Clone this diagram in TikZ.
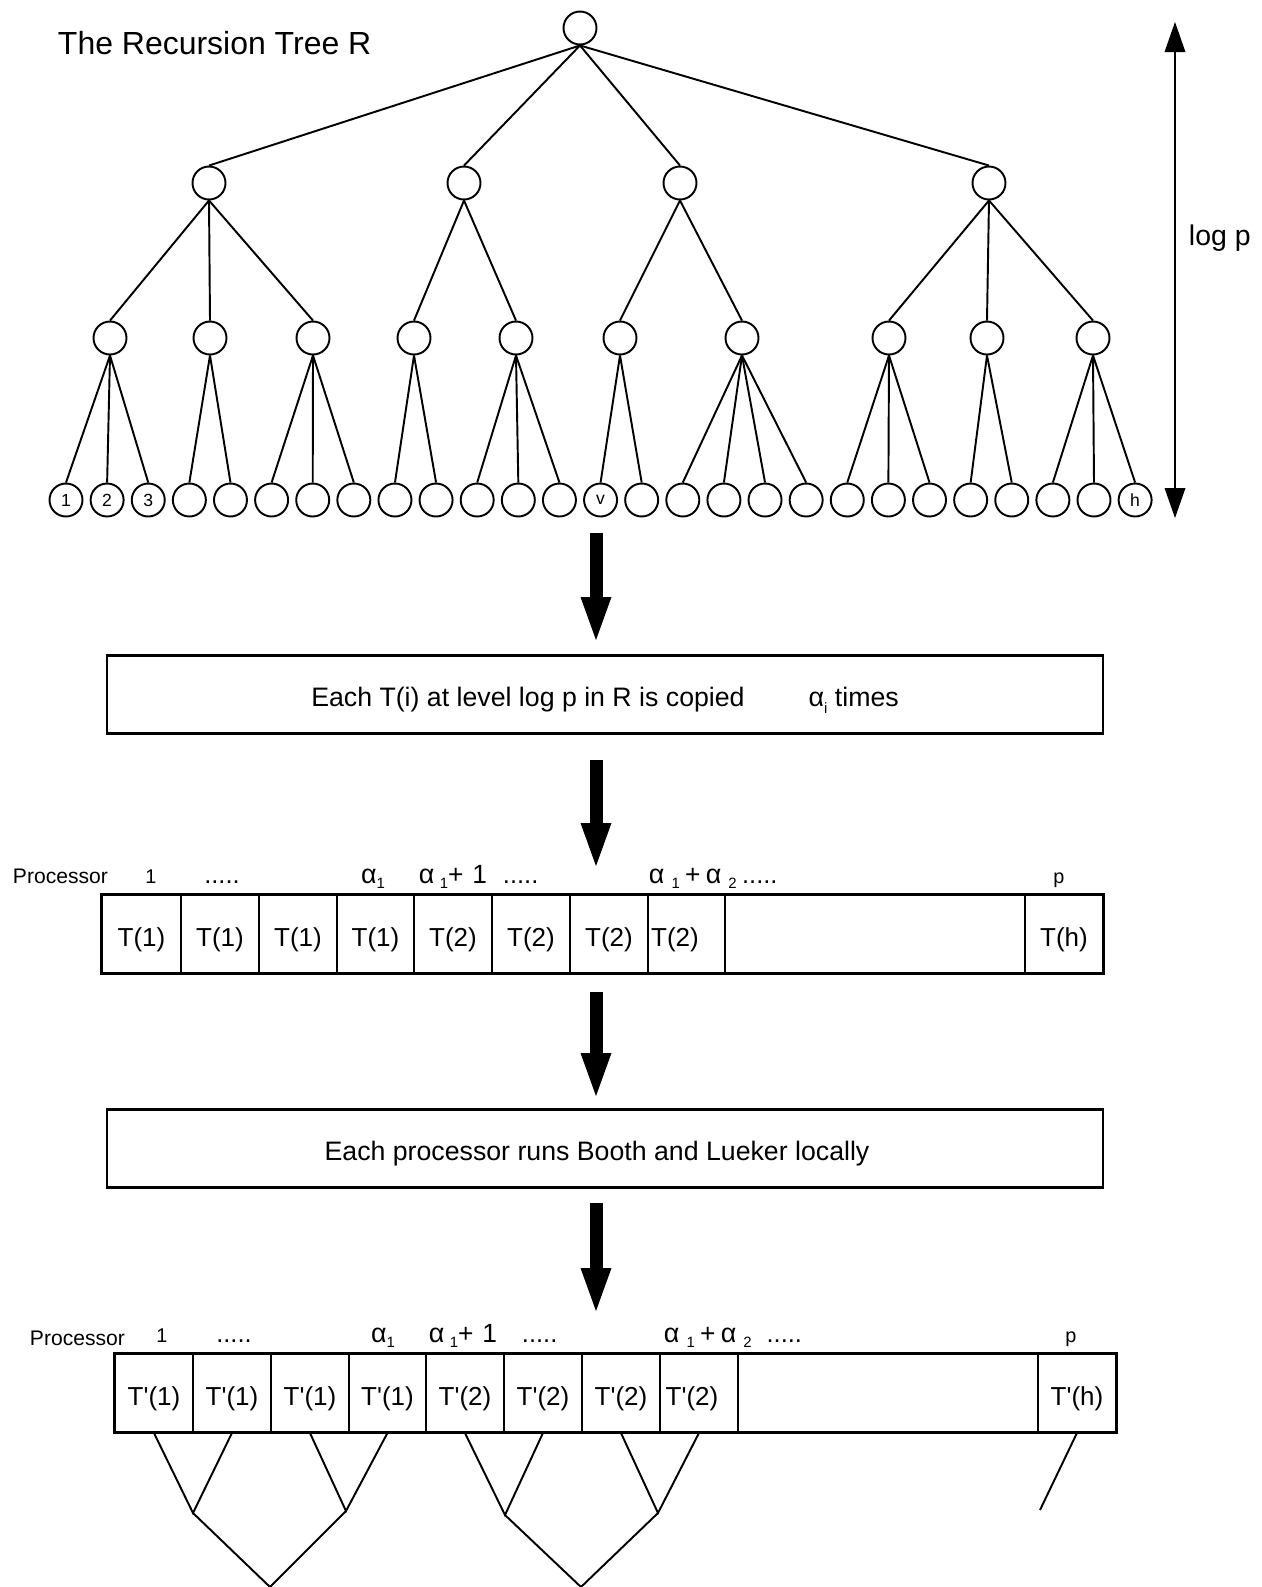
\documentclass[tikz,border=0pt]{standalone}
\usepackage{fontspec}
\setmainfont{Liberation Sans}
\usetikzlibrary{arrows.meta}

\newcommand{\alp}{{\fontsize{15.3}{16}\selectfont α}}
\newcommand{\asub}[1]{\raisebox{-0.5ex}{\fontsize{8.5}{9}\selectfont #1}}
\newcommand{\bigtxt}[1]{{\fontsize{15}{15}\selectfont #1}}

\begin{document}
\begin{tikzpicture}[x=0.02cm,y=-0.02cm,line width=1.1pt,
	vertex/.style={circle,draw,minimum size=0.66cm,inner sep=0pt,font=\fontsize{10}{10}\selectfont},
	cell/.style={draw,anchor=west,minimum height=1.56cm,inner sep=0pt,text height=0.58cm,text depth=0.1cm,font=\fontsize{14.8}{15}\selectfont},
	stage/.style={draw,line width=1.5pt,minimum width=19.92cm,minimum height=1.56cm,inner sep=0pt,text height=0.5cm,text depth=0.02cm,font=\fontsize{15.2}{16}\selectfont},
	tag/.style={anchor=base,inner sep=0pt,font=\fontsize{11.3}{12}\selectfont},
	dots/.style={tag,font=\fontsize{14.5}{15}\selectfont},
	bigarrow/.style={line width=0.26cm,-{Triangle[width=0.62cm,length=0.86cm,line width=0pt]}},
	levelarrow/.style={{Triangle[width=0.42cm,length=0.6cm,line width=0pt]}-{Triangle[width=0.42cm,length=0.6cm,line width=0pt]}}]
	\useasboundingbox (0,0) rectangle (1262,1587);

	% the recursion tree
	\node[anchor=base west,inner sep=0pt,font=\fontsize{18.2}{19}\selectfont] (title) at (57,54) {The Recursion Tree R};
	\node[vertex] (r) at (580,28) {};
	\node[vertex] (a1) at (209,183) {};
	\node[vertex] (a2) at (464,183) {};
	\node[vertex] (a3) at (680,183) {};
	\node[vertex] (a4) at (989,183) {};
	\foreach \x [count=\i] in {110,210,313,414,516,620,742,889,987,1093}
		\node[vertex] (b\i) at (\x,338) {};
	\foreach \t [count=\i] in {1,2,3,{},{},{},{},{},{},{},{},{},{},v,{},{},{},{},{},{},{},{},{},{},{},{},h}
		\node[vertex] (l\i) at ({66+41.12*(\i-1)},500) {\t};

	\path (r.south) edge (a1.north) edge (a2.north) edge (a3.north) edge (a4.north);
	\path (a1.south) edge (b1.north) edge (b2.north) edge (b3.north);
	\path (a2.south) edge (b4.north) edge (b5.north);
	\path (a3.south) edge (b6.north) edge (b7.north);
	\path (a4.south) edge (b8.north) edge (b9.north) edge (b10.north);
	\path (b1.south) edge (l1.north) edge (l2.north) edge (l3.north);
	\path (b2.south) edge (l4.north) edge (l5.north);
	\path (b3.south) edge (l6.north) edge (l7.north) edge (l8.north);
	\path (b4.south) edge (l9.north) edge (l10.north);
	\path (b5.south) edge (l11.north) edge (l12.north) edge (l13.north);
	\path (b6.south) edge (l14.north) edge (l15.north);
	\path (b7.south) edge (l16.north) edge (l17.north) edge (l18.north) edge (l19.north);
	\path (b8.south) edge (l20.north) edge (l21.north) edge (l22.north);
	\path (b9.south) edge (l23.north) edge (l24.north);
	\path (b10.south) edge (l25.north) edge (l26.north) edge (l27.north);

	% height of the tree
	\coordinate (top) at (1175,22);
	\coordinate (bottom) at (1175,518);
	\draw[levelarrow] (bottom) -- (top);
	\node[anchor=base west,inner sep=0pt,font=\fontsize{16.2}{17}\selectfont] (logp) at (1188,245) {log p};

	% copying step
	\coordinate (s1) at (596,533); \coordinate (e1) at (596,640);
	\draw[bigarrow] (s1) -- (e1);
	\node[stage] (copy) at (605,694.5) {Each T(i) at level log p in R is copied\hspace{1.28cm}\alp\asub{i} times};
	\coordinate (s2) at (596,760); \coordinate (e2) at (596,866);
	\draw[bigarrow] (s2) -- (e2);

	% processors before
	\node[tag,anchor=base west,font=\fontsize{12}{12}\selectfont] (procA) at (12,883) {Processor};
	\node[tag] (oneA) at (151,883) {1};
	\node[dots] (dotsA) at (222,883) {.....};
	\node[tag] (alphaA) at (373,883) {\alp\asub{1}};
	\node[tag,anchor=base west] (nextA) at (418,883) {\alp\hspace{3pt}\asub{1}\bigtxt{+\hspace{5pt}1}};
	\node[dots,anchor=base west] (moreA) at (502,883) {.....};
	\node[tag,anchor=base west] (sumA) at (648,883) {\alp\hspace{4pt}\asub{1}\hspace{3pt}\bigtxt{+}\hspace{3pt}\alp\hspace{4pt}\asub{2} {\fontsize{14.5}{15}\selectfont .....}};
	\node[tag] (pA) at (1059,883) {p};
	\foreach \x/\w/\t [count=\i] in {101/79/T(1),180/78/T(1),258/78/T(1),336/77/T(1),413/78/T(2),491/78/T(2),569/78/T(2),647/77/T(2)\hspace{0.46cm}\mbox{},724/300/{},1024/78/T(h)}
		\node[cell,minimum width=\w*0.02cm] (p\i) at (\x,934) {\t};
	\draw[line width=1.6pt] (p1.north west) rectangle (p10.south east);

	% local step
	\coordinate (s3) at (596,992); \coordinate (e3) at (596,1096);
	\draw[bigarrow] (s3) -- (e3);
	\node[stage] (local) at (605,1148.5) {Each processor runs Booth and Lueker locally\hspace{0.32cm}\mbox{}};
	\coordinate (s4) at (596,1203); \coordinate (e4) at (596,1311);
	\draw[bigarrow] (s4) -- (e4);

	% processors after
	\node[tag,anchor=base west,font=\fontsize{12}{12}\selectfont] (procB) at (29,1345) {Processor};
	\node[tag] (oneB) at (162,1342) {1};
	\node[dots] (dotsB) at (234,1342) {.....};
	\node[tag] (alphaB) at (383,1342) {\alp\asub{1}};
	\node[tag,anchor=base west] (nextB) at (428,1342) {\alp\hspace{3pt}\asub{1}\bigtxt{+\hspace{5pt}1}};
	\node[dots,anchor=base west] (moreB) at (521,1342) {.....};
	\node[tag,anchor=base west] (sumB) at (663,1342) {\alp\hspace{4pt}\asub{1}\hspace{3pt}\bigtxt{+}\hspace{3pt}\alp\hspace{4pt}\asub{2}\hspace{0.3cm}{\fontsize{14.5}{15}\selectfont .....}};
	\node[tag] (pB) at (1071,1342) {p};
	\foreach \x/\w/\t [count=\i] in {114/78/T\textquotesingle(1),192/78/T\textquotesingle(1),270/78/T\textquotesingle(1),348/77/T\textquotesingle(1),425/78/T\textquotesingle(2),503/78/T\textquotesingle(2),581/78/T\textquotesingle(2),659/78/T\textquotesingle(2)\hspace{0.28cm}\mbox{},737/300/{},1037/78/T\textquotesingle(h)}
		\node[cell,minimum width=\w*0.02cm] (q\i) at (\x,1393) {\t};
	\draw[line width=1.6pt] (q1.north west) rectangle (q10.south east);

	% merging the copies
	\coordinate (j1) at (193,1513);
	\coordinate (j2) at (346,1511);
	\coordinate (j3) at (505,1515);
	\coordinate (j4) at (658,1513);
	\coordinate (k1) at (270,1587);
	\coordinate (k2) at (581,1587);
	\coordinate (jh) at (1040,1510);
	\draw (q1.south) -- (j1) -- (q2.south);
	\draw (q3.south) -- (j2) -- (q4.south);
	\draw (q5.south) -- (j3) -- (q6.south);
	\draw (q7.south) -- (j4) -- (q8.south);
	\draw (j1) -- (k1) -- (j2);
	\draw (j3) -- (k2) -- (j4);
	\draw (q10.south) -- (jh);
\end{tikzpicture}
\end{document}
